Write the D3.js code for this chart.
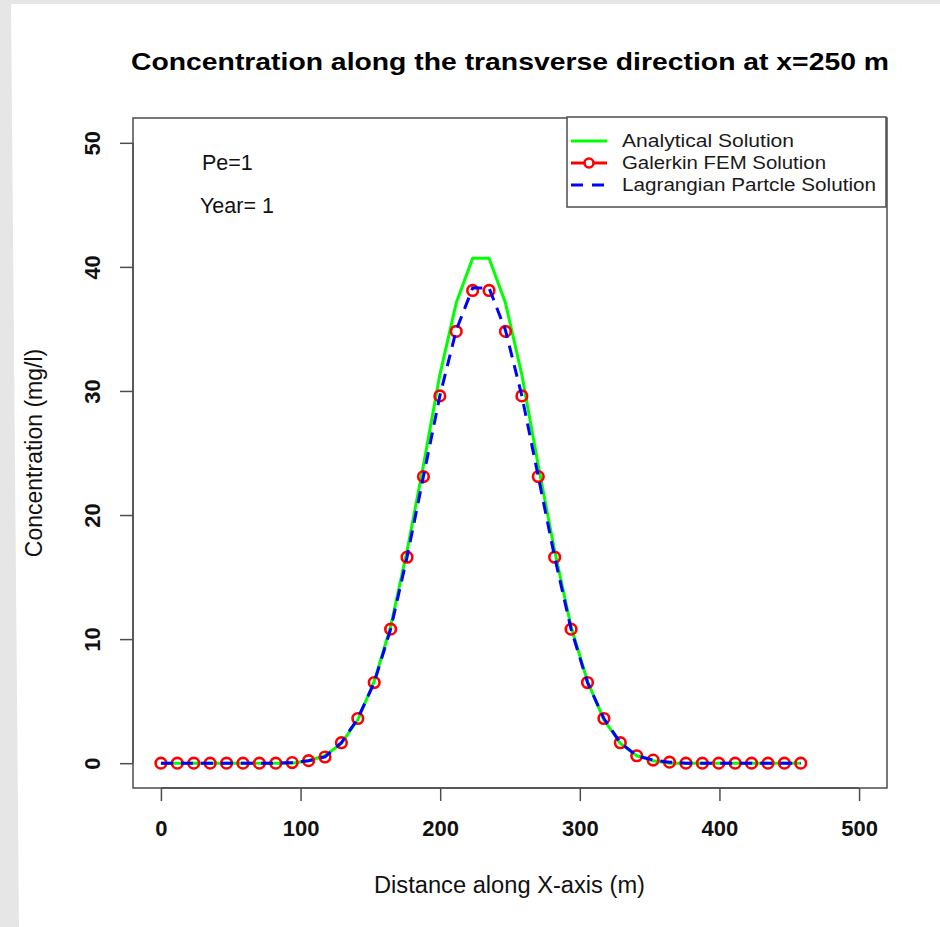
<!DOCTYPE html>
<html>
<head>
<meta charset="utf-8">
<script src="https://cdn.jsdelivr.net/npm/d3@7/dist/d3.min.js"></script>
<style>
  html, body { margin: 0; padding: 0; background: #ffffff; }
  svg { display: block; }
  text { font-family: "Liberation Sans", Arial, sans-serif; }
</style>
</head>
<body>
<svg id="chart" width="940" height="927"></svg>
<script>
// Transverse positions (m)
const distance = [0, 11.75, 23.5, 35.25, 47, 58.75, 70.5, 82.25, 94, 105.75,
  117.5, 129.25, 141, 152.75, 164.5, 176.25, 188, 199.75, 211.5, 223.25,
  235, 246.75, 258.5, 270.25, 282, 293.75, 305.5, 317.25, 329, 340.75,
  352.5, 364.25, 376, 387.75, 399.5, 411.25, 423, 434.75, 446.5, 458.25];

// Concentration (mg/l) for each solution method
const analytical = [0, 0, 0, 0, 0, 0, 0, 0, 0, 0.2,
  0.6, 1.6, 3.5, 6.6, 11.0, 17.1, 24.0, 31.3, 37.1, 40.7,
  40.7, 37.1, 31.3, 24.0, 17.1, 11.0, 6.6, 3.5, 1.6, 0.6,
  0.2, 0, 0, 0, 0, 0, 0, 0, 0, 0];
const galerkin = [0, 0, 0, 0, 0, 0, 0, 0, 0.05, 0.2,
  0.5, 1.65, 3.6, 6.5, 10.8, 16.6, 23.1, 29.6, 34.8, 38.1,
  38.1, 34.8, 29.6, 23.1, 16.6, 10.8, 6.5, 3.6, 1.65, 0.6,
  0.25, 0.08, 0, 0, 0, 0, 0, 0, 0, 0];
const lagrangian = [0, 0, 0, 0, 0, 0, 0, 0, 0.05, 0.2,
  0.5, 1.65, 3.6, 6.5, 10.8, 16.6, 23.1, 29.6, 34.9, 38.3,
  38.3, 34.9, 29.6, 23.1, 16.6, 10.8, 6.5, 3.6, 1.65, 0.6,
  0.25, 0.08, 0, 0, 0, 0, 0, 0, 0, 0];

const xTicks = [0, 100, 200, 300, 400, 500];
const yTicks = [0, 10, 20, 30, 40, 50];
const seriesNames = ["Analytical Solution", "Galerkin FEM Solution", "Lagrangian Partcle Solution"];
const annotations = ["Pe=1", "Year= 1"];

const svg = d3.select("#chart");

// page background with the light grey margin on the left and top
svg.append("rect").attr("width", 940).attr("height", 927).attr("fill", "#e6e6e6");
svg.append("path")
  .attr("d", "M11,4 L940,4 L940,927 L19,927 Z")
  .attr("fill", "#ffffff");

const box = { left: 133, right: 887, top: 118, bottom: 788 };
const x = d3.scaleLinear().domain([-20, 520]).range([box.left, box.right]);
const y = d3.scaleLinear().domain([-2, 52]).range([box.bottom, box.top]);

const axisColor = "#4d4d4d";

// x axis
const xAxis = svg.append("g")
  .attr("transform", `translate(0,${box.bottom})`)
  .call(d3.axisBottom(x).tickValues(xTicks).tickSize(13).tickPadding(19).tickSizeOuter(0));
xAxis.select(".domain").attr("d", `M${x(0)},0H${x(500)}`).attr("stroke", axisColor).attr("stroke-width", 1.5);
xAxis.selectAll(".tick line").attr("stroke", axisColor).attr("stroke-width", 1.5);
xAxis.selectAll(".tick text")
  .attr("font-size", 22).attr("font-weight", "bold").attr("fill", "#111")
  .attr("font-family", "'Liberation Sans', Arial, sans-serif");

// y axis with labels rotated parallel to the axis
const yAxis = svg.append("g")
  .attr("transform", `translate(${box.left},0)`)
  .call(d3.axisLeft(y).tickValues(yTicks).tickSize(13).tickSizeOuter(0));
yAxis.select(".domain").attr("d", `M0,${y(0)}V${y(50)}`).attr("stroke", axisColor).attr("stroke-width", 1.5);
yAxis.selectAll(".tick line").attr("stroke", axisColor).attr("stroke-width", 1.5);
yAxis.selectAll(".tick text")
  .attr("x", null).attr("dy", null)
  .attr("transform", "translate(-33,0) rotate(-90)")
  .attr("text-anchor", "middle")
  .attr("font-size", 22).attr("font-weight", "bold").attr("fill", "#111")
  .attr("font-family", "'Liberation Sans', Arial, sans-serif");

// plot frame
svg.append("rect")
  .attr("x", box.left).attr("y", box.top)
  .attr("width", box.right - box.left).attr("height", box.bottom - box.top)
  .attr("fill", "none").attr("stroke", axisColor).attr("stroke-width", 1.5);

// title and axis titles
svg.append("text")
  .attr("x", 131).attr("y", 70)
  .attr("font-size", 24.5).attr("font-weight", "bold").attr("fill", "#000")
  .attr("textLength", 758).attr("lengthAdjust", "spacingAndGlyphs")
  .text("Concentration along the transverse direction at x=250 m");
svg.append("text")
  .attr("x", 374).attr("y", 893)
  .attr("font-size", 23).attr("fill", "#111")
  .attr("textLength", 271).attr("lengthAdjust", "spacingAndGlyphs")
  .text("Distance along X-axis (m)");
svg.append("text")
  .attr("transform", `translate(42,${(box.top + box.bottom) / 2}) rotate(-90)`)
  .attr("text-anchor", "middle").attr("font-size", 23).attr("fill", "#111")
  .text("Concentration (mg/l)");

// series
const pts = (vals) => distance.map((d, i) => [d, vals[i]]);
const line = d3.line().x(d => x(d[0])).y(d => y(d[1]));

svg.append("path")
  .attr("d", line(pts(analytical)))
  .attr("fill", "none").attr("stroke", "#00ff00").attr("stroke-width", 3)
  .attr("stroke-linejoin", "round");

svg.append("g").selectAll("circle")
  .data(pts(galerkin))
  .join("circle")
  .attr("cx", d => x(d[0])).attr("cy", d => y(d[1])).attr("r", 5.3)
  .attr("fill", "none").attr("stroke", "#ff0000").attr("stroke-width", 2.6);

svg.append("path")
  .attr("d", line(pts(lagrangian)))
  .attr("fill", "none").attr("stroke", "#0000ff").attr("stroke-width", 3)
  .attr("stroke-dasharray", "12,8");

// legend
const lg = { left: 567, top: 117, right: 886, bottom: 207 };
svg.append("rect")
  .attr("x", lg.left).attr("y", lg.top)
  .attr("width", lg.right - lg.left).attr("height", lg.bottom - lg.top)
  .attr("fill", "#ffffff").attr("stroke", axisColor).attr("stroke-width", 1.5);
const rowY = [141, 163, 185];
const legendWidths = [172, 204, 254];
const legendStyles = [
  { color: "#00ff00", dash: null, marker: false },
  { color: "#ff0000", dash: null, marker: true },
  { color: "#0000ff", dash: "12,9", marker: false }
];
seriesNames.forEach((name, i) => {
  const st = legendStyles[i];
  const ln = svg.append("line")
    .attr("x1", 571).attr("x2", 607).attr("y1", rowY[i]).attr("y2", rowY[i])
    .attr("stroke", st.color).attr("stroke-width", 3);
  if (st.dash) ln.attr("stroke-dasharray", st.dash);
  if (st.marker) {
    svg.append("circle").attr("cx", 589).attr("cy", rowY[i]).attr("r", 4.5)
      .attr("fill", "#ffffff").attr("stroke", st.color).attr("stroke-width", 2.6);
  }
  svg.append("text")
    .attr("x", 622).attr("y", rowY[i] + 6)
    .attr("font-size", 17.5).attr("fill", "#1a1a1a")
    .attr("textLength", legendWidths[i]).attr("lengthAdjust", "spacingAndGlyphs")
    .text(name);
});

// run parameters
svg.append("text").attr("x", 202).attr("y", 170).attr("font-size", 21.5).attr("fill", "#111").text(annotations[0]);
svg.append("text").attr("x", 200).attr("y", 213).attr("font-size", 21.5).attr("fill", "#111").text(annotations[1]);
</script>
</body>
</html>
